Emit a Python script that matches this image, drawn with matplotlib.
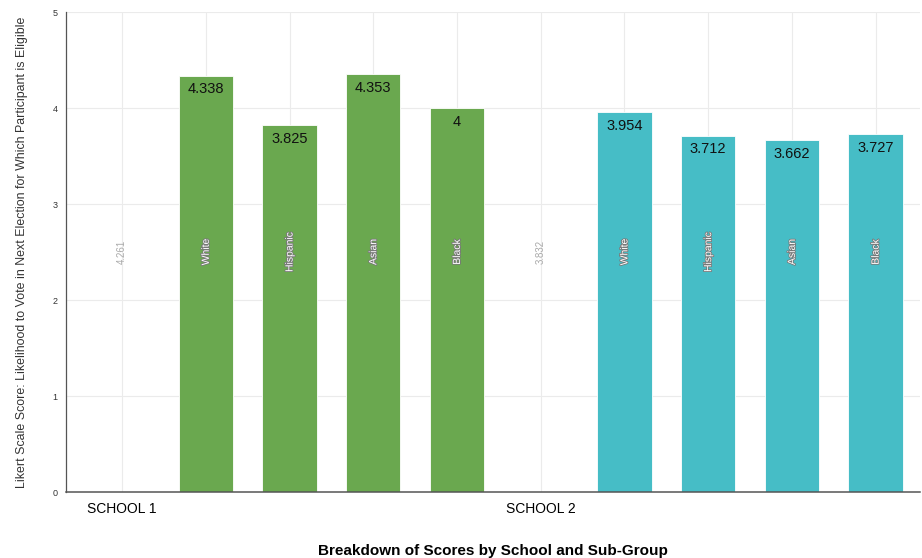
import numpy as np
import matplotlib.pyplot as plt
import matplotlib.patheffects as pe

plt.rcParams['font.family'] = ['Liberation Sans', 'DejaVu Sans']

# Data
groups = ['SCHOOL 1', 'White', 'Hispanic', 'Asian', 'Black',
          'SCHOOL 2', 'White', 'Hispanic', 'Asian', 'Black']
scores = [4.261, 4.338, 3.825, 4.353, 4.0,
          3.832, 3.954, 3.712, 3.662, 3.727]
is_school = [True, False, False, False, False,
             True, False, False, False, False]
value_labels = ['4.261', '4.338', '3.825', '4.353', '4',
                '3.832', '3.954', '3.712', '3.662', '3.727']

green = '#6aa84f'
teal = '#46bdc6'
colors = [green] * 5 + [teal] * 5

fig = plt.figure(figsize=(9.22, 5.58), dpi=100)
ax = fig.add_axes([66 / 922, 66 / 558, 854 / 922, 480 / 558])

x = np.arange(len(groups))
for i in range(len(groups)):
    if is_school[i]:
        # school totals shown only as a faint rotated label
        ax.text(x[i], 2.5, value_labels[i], rotation=90, ha='center', va='center',
                fontsize=7, color='#aaaaaa')
        continue
    ax.bar(x[i], scores[i], width=0.65, color=colors[i], edgecolor='white',
           linewidth=0.6, zorder=2)
    ax.text(x[i], scores[i] - 0.07, value_labels[i], ha='center', va='top',
            fontsize=10.5, color='#111111', zorder=3)
    t = ax.text(x[i], 2.5, groups[i], rotation=90, ha='center', va='center',
                fontsize=7.5, color='white', zorder=3)
    t.set_path_effects([pe.withStroke(linewidth=1.2, foreground='#777777')])

ax.set_xlim(-0.67, 9.53)
ax.set_ylim(0, 5)
ax.set_yticks([0, 1, 2, 3, 4, 5])
ax.tick_params(axis='y', labelsize=6.5, length=0, pad=6, colors='#333333')
ax.set_xticks(x)
ax.set_xticklabels([g if s else '' for g, s in zip(groups, is_school)],
                   fontsize=10)
ax.tick_params(axis='x', length=0, pad=7)

ax.grid(True, color='#ebebeb', linewidth=0.8, zorder=0)
ax.set_axisbelow(True)
for side in ['top', 'right']:
    ax.spines[side].set_visible(False)
ax.spines['left'].set_color('#555555')
ax.spines['bottom'].set_color('#555555')
ax.spines['left'].set_linewidth(0.9)
ax.spines['bottom'].set_linewidth(1.1)

ax.set_ylabel('Likert Scale Score: Likelihood to Vote in Next Election for Which Participant is Eligible',
              fontsize=8.9, color='#333333', labelpad=18)
ax.set_xlabel('Breakdown of Scores by School and Sub-Group', fontsize=11,
              fontweight='bold', labelpad=20)

fig.savefig('out.png', dpi=100)
